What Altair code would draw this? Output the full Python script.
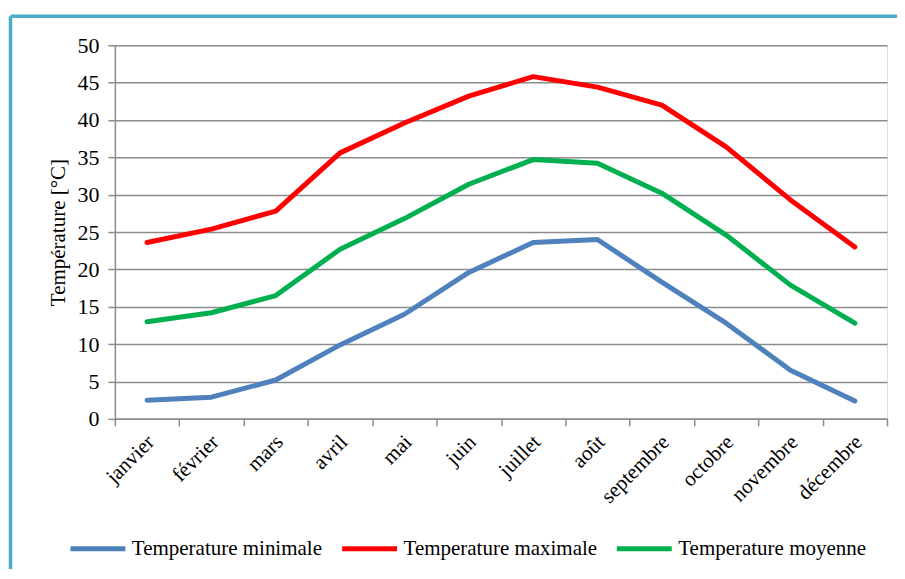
import altair as alt
import pandas as pd

months = ["janvier", "février", "mars", "avril", "mai", "juin", "juillet",
          "août", "septembre", "octobre", "novembre", "décembre"]
series_names = ["Temperature minimale", "Temperature maximale", "Temperature moyenne"]
tmin = [2.5, 2.9, 5.2, 9.9, 14.0, 19.6, 23.6, 24.0, 18.3, 12.8, 6.5, 2.4]
tmax = [23.6, 25.4, 27.8, 35.6, 39.6, 43.2, 45.8, 44.4, 42.0, 36.4, 29.3, 23.0]
tmoy = [13.0, 14.2, 16.5, 22.7, 26.8, 31.4, 34.7, 34.2, 30.2, 24.6, 17.9, 12.8]
colors = ["#4F81BD", "#FF0000", "#00B050"]
y_ticks = [0, 5, 10, 15, 20, 25, 30, 35, 40, 45, 50]

rows = []
for name, vals in zip(series_names, [tmin, tmax, tmoy]):
    for i, (m, v) in enumerate(zip(months, vals)):
        rows.append({"mois": m, "temp": v, "serie": name, "order": i})
df = pd.DataFrame(rows)

W, H = 773, 374
FONT = "Liberation Serif"

lines = alt.Chart(df).mark_line(strokeWidth=5, strokeCap="round", strokeJoin="round").encode(
    x=alt.X("mois:N", sort=months,
            scale=alt.Scale(type="band", paddingInner=0, paddingOuter=0),
            axis=alt.Axis(title=None, labelAngle=-45, tickBand="extent", tickSize=7,
                          labelPadding=5, labelOffset=-4, labelFontSize=21, labelFont=FONT,
                          labelColor="black", domainColor="#8c8c8c", tickColor="#8c8c8c",
                          domainWidth=1.5, tickWidth=1.5, grid=False)),
    y=alt.Y("temp:Q", scale=alt.Scale(domain=[0, 50], nice=False),
            axis=alt.Axis(title="Température [°C]", values=y_ticks, tickSize=7,
                          labelPadding=9, labelFontSize=22, labelFont=FONT,
                          labelColor="black", titleFont=FONT, titleFontSize=21,
                          titleFontWeight="normal", titleColor="black", titlePadding=8,
                          grid=True, gridColor="#8c8c8c", gridWidth=1.5,
                          domainColor="#8c8c8c", tickColor="#8c8c8c",
                          domainWidth=1.5, tickWidth=1.5)),
    color=alt.Color("serie:N", sort=series_names,
                    scale=alt.Scale(domain=series_names, range=colors),
                    legend=alt.Legend(title=None, orient="none", direction="horizontal",
                                      legendX=-47, legendY=474,
                                      symbolType="stroke", symbolSize=3025,
                                      symbolStrokeWidth=5, labelOffset=4,
                                      columnPadding=9, labelFont=FONT,
                                      labelFontSize=21, labelColor="black",
                                      labelLimit=400, padding=0)),
    order="order:Q",
)

frame_left = alt.Chart().mark_rule(color="#4BACC6", strokeWidth=3.5).encode(
    x=alt.value(-104.5), y=alt.value(-29), y2=alt.value(700))
frame_top = alt.Chart().mark_rule(color="#4BACC6", strokeWidth=3.5).encode(
    x=alt.value(-104.5), x2=alt.value(900), y=alt.value(-29))

chart = alt.layer(frame_left, frame_top, lines).properties(
    width=W, height=H,
    autosize=alt.AutoSizeParams(type="none"),
    padding={"left": 107, "top": 37, "right": 10, "bottom": 150},
).configure_view(stroke=None).configure(background="white")

chart.save("out.html", embed_options={"renderer": "svg", "actions": False})
